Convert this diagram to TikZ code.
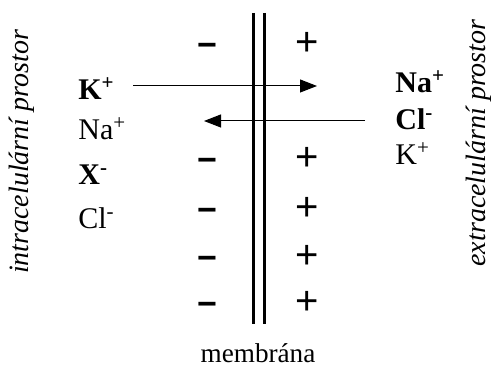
\documentclass[tikz,border=0pt]{standalone}
\usepackage{fontspec}
\setmainfont{Liberation Serif}
\newfontfamily\signfont{Liberation Sans}
\usetikzlibrary{arrows.meta, positioning}

\tikzset{
  ion/.style={font=\fontsize{15}{15}\selectfont, inner sep=0pt, anchor=base west},
  side/.style={font=\fontsize{14}{14}\selectfont\itshape, inner sep=0pt, rotate=90},
  minussign/.style={font=\fontsize{17}{17}\selectfont\signfont\bfseries, inner sep=0pt},
  plussign/.style={font=\fontsize{20}{20}\selectfont\signfont, inner sep=0pt},
  flow/.style={line width=0.5pt, -{Triangle[length=8.5pt, width=6.5pt]}}
}

\begin{document}
\begin{tikzpicture}[x=0.5pt, y=-0.5pt]
  \useasboundingbox (0,0) rectangle (494,367);

  % membrane, two lines
  \draw[line width=1.5pt] (253,13) -- (253,324);
  \draw[line width=1.5pt] (264,13) -- (264,324);
  \node[font=\fontsize{13.6}{13.6}\selectfont] (membrana) at (258,353) {membrána};

  % charges on both sides
  \foreach \y [count=\i] in {44,159,209,257,303} {
    \node[minussign] (minus\i) at (207,\y+6) {−};
    \node[plussign] (plus\i) at (307,\y) {+};
  }

  % space labels
  \node[side] (intra) at (22,152) {intracelulární prostor};
  \node[side] (extra) at (479,143) {extracelulární prostor};

  % ions inside
  \node[ion] (kin) at (78,100) {\textbf{K\textsuperscript{+}}};
  \node[ion] (nain) at (78,140) {Na\textsuperscript{+}};
  \node[ion] (xin) at (78,185) {\textbf{X\textsuperscript{-}}};
  \node[ion] (clin) at (78,229) {Cl\textsuperscript{-}};

  % ions outside
  \node[ion] (naout) at (395,93) {\textbf{Na\textsuperscript{+}}};
  \node[ion] (clout) at (395,130) {\textbf{Cl\textsuperscript{-}}};
  \node[ion] (kout) at (395,165) {K\textsuperscript{+}};

  % ion flows across the membrane
  \coordinate (kstart) at (133,86);
  \coordinate (kend) at (317,86);
  \coordinate (clstart) at (365,121);
  \coordinate (clend) at (204,121);
  \draw[flow] (kstart) -- (kend);
  \draw[flow] (clstart) -- (clend);
\end{tikzpicture}
\end{document}
